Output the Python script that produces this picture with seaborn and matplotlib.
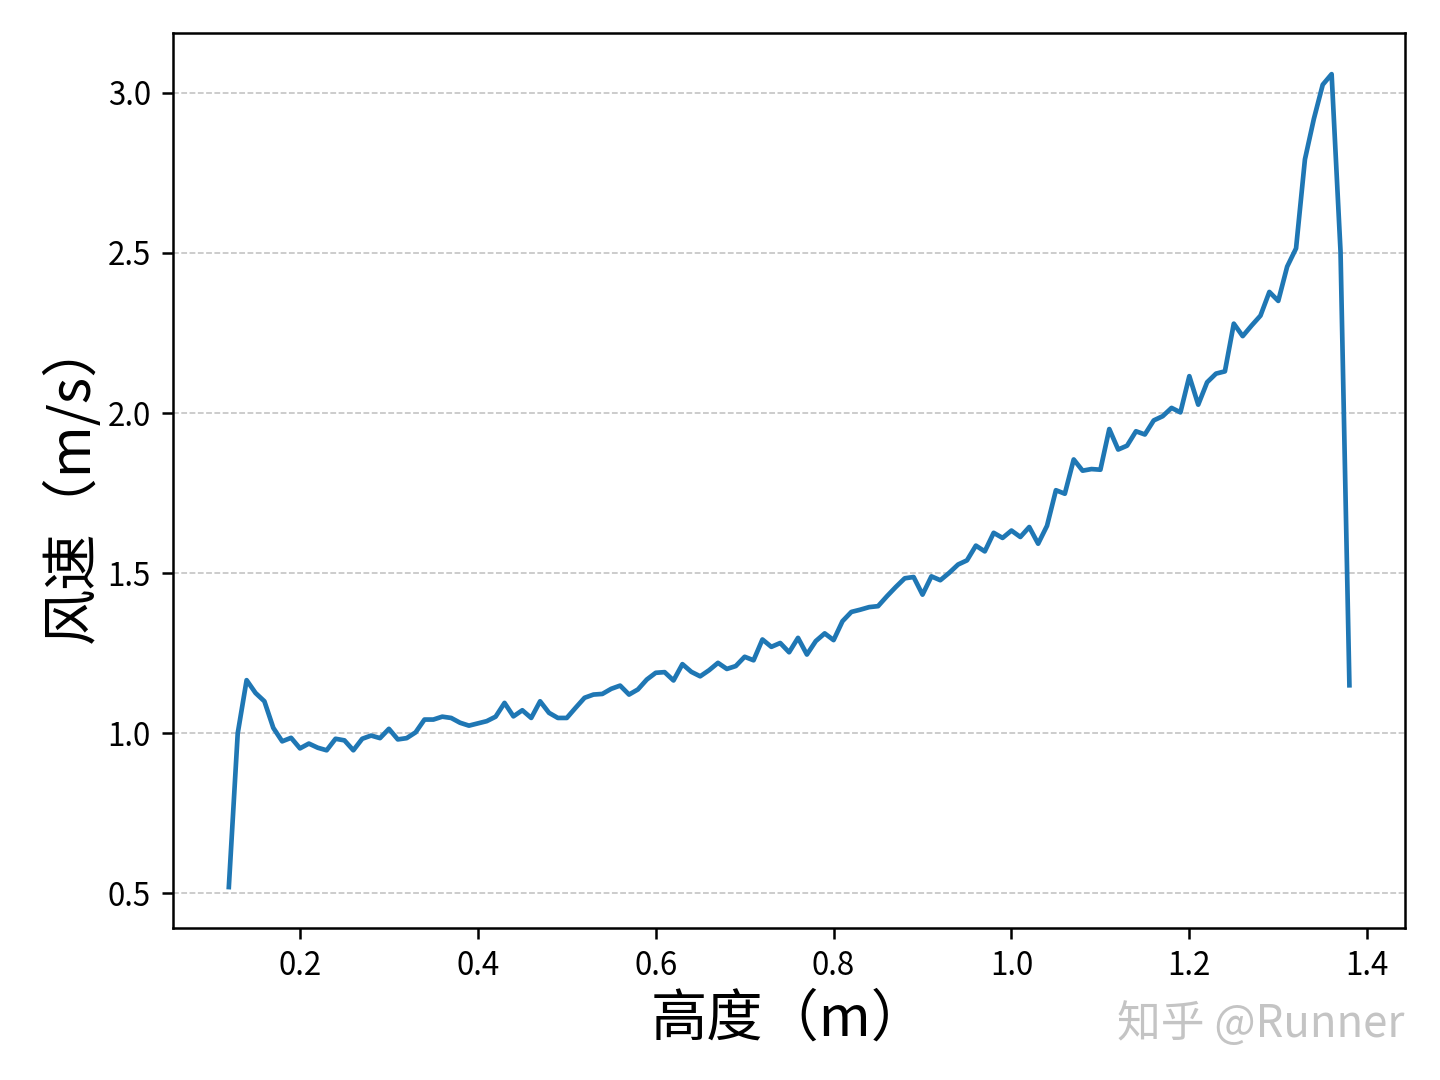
import numpy as np
import pandas as pd
import matplotlib
matplotlib.use("Agg")
import matplotlib.pyplot as plt
import seaborn as sns

# 高度 (m)
heights = [
    0.12, 0.13, 0.14, 0.15, 0.16, 0.17, 0.18, 0.19, 0.20, 0.21,
    0.22, 0.23, 0.24, 0.25, 0.26, 0.27, 0.28, 0.29, 0.30, 0.31,
    0.32, 0.33, 0.34, 0.35, 0.36, 0.37, 0.38, 0.39, 0.40, 0.41,
    0.42, 0.43, 0.44, 0.45, 0.46, 0.47, 0.48, 0.49, 0.50, 0.51,
    0.52, 0.53, 0.54, 0.55, 0.56, 0.57, 0.58, 0.59, 0.60, 0.61,
    0.62, 0.63, 0.64, 0.65, 0.66, 0.67, 0.68, 0.69, 0.70, 0.71,
    0.72, 0.73, 0.74, 0.75, 0.76, 0.77, 0.78, 0.79, 0.80, 0.81,
    0.82, 0.83, 0.84, 0.85, 0.86, 0.87, 0.88, 0.89, 0.90, 0.91,
    0.92, 0.93, 0.94, 0.95, 0.96, 0.97, 0.98, 0.99, 1.00, 1.01,
    1.02, 1.03, 1.04, 1.05, 1.06, 1.07, 1.08, 1.09, 1.10, 1.11,
    1.12, 1.13, 1.14, 1.15, 1.16, 1.17, 1.18, 1.19, 1.20, 1.21,
    1.22, 1.23, 1.24, 1.25, 1.26, 1.27, 1.28, 1.29, 1.30, 1.31,
    1.32, 1.33, 1.34, 1.35, 1.36, 1.37, 1.38,
]

# 风速 (m/s)
wind_speed = [
    0.52, 1.00, 1.166, 1.126, 1.10, 1.017, 0.975, 0.986, 0.953, 0.968,
    0.955, 0.947, 0.983, 0.978, 0.947, 0.983, 0.993, 0.985, 1.014, 0.981,
    0.985, 1.003, 1.043, 1.043, 1.052, 1.048, 1.033, 1.024, 1.031, 1.038,
    1.052, 1.095, 1.053, 1.072, 1.048, 1.100, 1.064, 1.048, 1.048, 1.080,
    1.111, 1.121, 1.123, 1.139, 1.149, 1.121, 1.137, 1.168, 1.189, 1.191,
    1.165, 1.216, 1.192, 1.178, 1.197, 1.220, 1.201, 1.210, 1.239, 1.228,
    1.293, 1.270, 1.282, 1.253, 1.298, 1.246, 1.288, 1.312, 1.291, 1.350,
    1.379, 1.386, 1.394, 1.397, 1.428, 1.457, 1.484, 1.488, 1.433, 1.490,
    1.478, 1.501, 1.527, 1.540, 1.586, 1.568, 1.626, 1.610, 1.633, 1.613,
    1.644, 1.592, 1.648, 1.759, 1.748, 1.855, 1.820, 1.825, 1.823, 1.950,
    1.886, 1.898, 1.943, 1.933, 1.977, 1.990, 2.016, 2.002, 2.115, 2.026,
    2.096, 2.123, 2.130, 2.279, 2.240, 2.273, 2.304, 2.378, 2.350, 2.457,
    2.514, 2.792, 2.918, 3.025, 3.058, 2.505, 1.150,
]

x_label = "高度（m）"
y_label = "风速（m/s）"
watermark = "知乎 @Runner"

df = pd.DataFrame({"h": heights, "v": wind_speed})

plt.rcParams["font.family"] = ["Noto Sans CJK SC", "DejaVu Sans"]
plt.rcParams["axes.unicode_minus"] = False

fig, ax = plt.subplots(figsize=(6.4, 4.8), dpi=225)
fig.subplots_adjust(left=0.12, right=0.976, top=0.969, bottom=0.141)

sns.lineplot(data=df, x="h", y="v", ax=ax, color="#1f77b4", linewidth=1.5)

ax.set_xlabel(x_label, fontsize=18, labelpad=3)
ax.set_ylabel(y_label, fontsize=18, labelpad=2)
ax.set_xticks([0.2, 0.4, 0.6, 0.8, 1.0, 1.2, 1.4])
ax.set_yticks([0.5, 1.0, 1.5, 2.0, 2.5, 3.0])
ax.tick_params(labelsize=10)
ax.grid(axis="y", linestyle="--", linewidth=0.5, color="gray", alpha=0.5)
ax.grid(axis="x", visible=False)
for s in ax.spines.values():
    s.set_color("black")
    s.set_linewidth(0.8)

fig.text(0.975, 0.052, watermark, ha="right", va="center", fontsize=14,
         color="#c4c4c4")

fig.savefig("out.png", dpi=225)
